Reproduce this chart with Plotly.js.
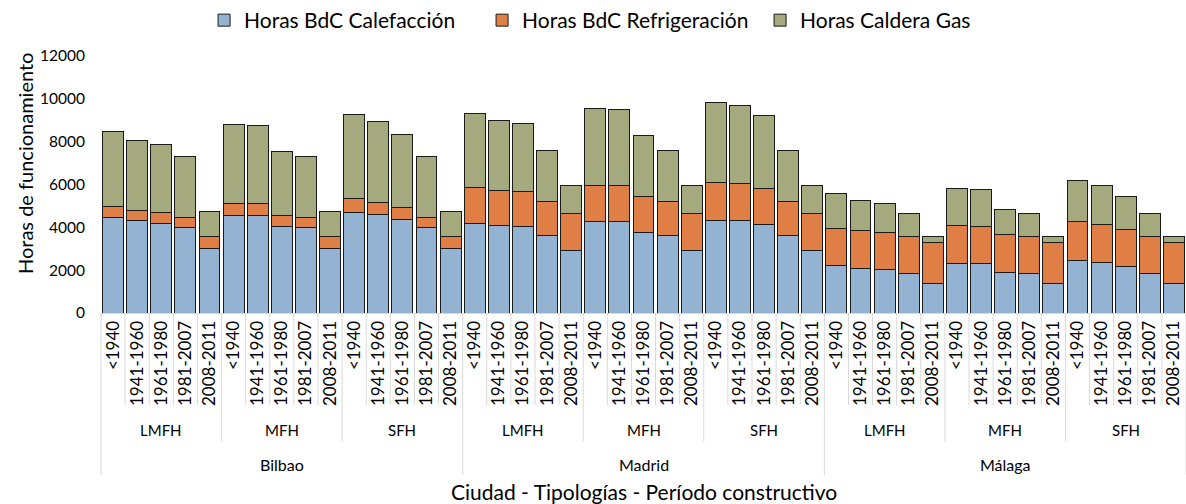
<!DOCTYPE html>
<html>
<head>
<meta charset="utf-8">
<script src="https://cdn.plot.ly/plotly-3.0.1.min.js"></script>
<style>html,body{margin:0;padding:0;background:#fff}#chart{width:1186px;height:504px}</style>
</head>
<body>
<div id="chart"></div>
<script>
var cities = ['Bilbao', 'Madrid', 'Málaga'];
var typologies = ['LMFH', 'MFH', 'SFH'];
var periods = ['<1940', '1941-1960', '1961-1980', '1981-2007', '2008-2011'];

// one row per ciudad: LMFH | MFH | SFH, 5 periodos each
var calefaccion = [
  4450, 4300, 4200, 4000, 2990,  4560, 4550, 4050, 4000, 2990,  4670, 4590, 4370, 4000, 2990,
  4190, 4090, 4020, 3600, 2930,  4280, 4280, 3750, 3600, 2930,  4340, 4310, 4140, 3600, 2930,
  2220, 2100, 2040, 1840, 1390,  2320, 2310, 1900, 1840, 1390,  2460, 2370, 2180, 1840, 1390
];
var refrigeracion = [
  510, 480, 480, 450, 575,  540, 555, 495, 450, 575,  665, 580, 545, 450, 575,
  1680, 1650, 1650, 1590, 1730,  1695, 1680, 1680, 1590, 1730,  1775, 1730, 1695, 1590, 1730,
  1745, 1730, 1725, 1725, 1880,  1745, 1740, 1775, 1725, 1880,  1805, 1760, 1725, 1725, 1880
];
var calderaGas = [
  3500, 3270, 3175, 2835, 1165,  3705, 3660, 2990, 2835, 1165,  3940, 3780, 3410, 2835, 1165,
  3455, 3255, 3175, 2380, 1290,  3595, 3565, 2865, 2380, 1290,  3735, 3660, 3375, 2380, 1290,
  1635, 1400, 1355, 1090, 325,  1730, 1710, 1165, 1090, 325,  1930, 1820, 1555, 1090, 325
];

var FONT = 'Lato, "Open Sans", sans-serif';
var n = cities.length * typologies.length * periods.length;

var xs = [], ticktext = [];
for (var i = 0; i < n; i++) {
  xs.push(i);
  ticktext.push(periods[i % periods.length]);
}

function barTrace(name, y, color) {
  return {
    type: 'bar',
    name: name,
    x: xs,
    y: y,
    marker: {color: color, line: {color: '#1a1a1a', width: 1}},
    hoverinfo: 'skip'
  };
}

var data = [
  barTrace('Horas BdC Calefacción', calefaccion, '#94b3d3'),
  barTrace('Horas BdC Refrigeración', refrigeracion, '#df7e45'),
  barTrace('Horas Caldera Gas', calderaGas, '#a4a97e')
];

// separator lines under the x axis (3 levels)
var shapes = [];
for (var k = 0; k <= n; k++) {
  var yEnd = -0.358;
  if (k % 15 === 0) yEnd = -0.63;
  else if (k % 5 === 0) yEnd = -0.5;
  shapes.push({
    type: 'line', xref: 'paper', yref: 'paper',
    x0: k / n, x1: k / n, y0: 0, y1: yEnd,
    line: {color: '#d9d9d9', width: 1}
  });
}

var annotations = [];
for (var c = 0; c < cities.length; c++) {
  for (var t = 0; t < typologies.length; t++) {
    annotations.push({
      xref: 'x', yref: 'paper', x: c * 15 + t * 5 + 2, y: -0.455,
      text: typologies[t], showarrow: false, yanchor: 'middle',
      font: {family: FONT, size: 15, color: '#000'}
    });
  }
  annotations.push({
    xref: 'x', yref: 'paper', x: c * 15 + 7, y: -0.588,
    text: cities[c], showarrow: false, yanchor: 'middle',
    font: {family: FONT, size: 16, color: '#000'}
  });
}
annotations.push({
  xref: 'paper', yref: 'paper', x: 0.5, y: -0.696,
  text: 'Ciudad - Tipologías - Período constructivo', showarrow: false,
  xanchor: 'center', yanchor: 'middle',
  font: {family: FONT, size: 21, color: '#000'}
});
annotations.push({
  xref: 'paper', yref: 'paper', x: -0.07, y: 0.58,
  text: 'Horas de funcionamiento', showarrow: false, textangle: -90,
  xanchor: 'center', yanchor: 'middle',
  font: {family: FONT, size: 20, color: '#000'}
});

var layout = {
  width: 1186,
  height: 504,
  margin: {l: 101, r: 0, t: 56, b: 191},
  barmode: 'stack',
  bargap: 0.13,
  paper_bgcolor: '#fff',
  plot_bgcolor: '#fff',
  showlegend: true,
  legend: {
    orientation: 'h', traceorder: 'normal',
    entrywidth: 233, entrywidthmode: 'pixels',
    x: 0.095, y: 1.14, xanchor: 'left', yanchor: 'middle',
    font: {family: FONT, size: 21, color: '#000'}
  },
  xaxis: {
    range: [-0.5, n - 0.5],
    tickmode: 'array',
    tickvals: xs,
    ticktext: ticktext,
    tickangle: -90,
    ticks: '',
    showgrid: false,
    zeroline: false,
    showline: true,
    linecolor: '#d9d9d9',
    tickfont: {family: FONT, size: 17, color: '#000'},
    fixedrange: true
  },
  yaxis: {
    range: [0, 12000],
    dtick: 2000,
    tickformat: 'd',
    showgrid: false,
    zeroline: false,
    showline: false,
    ticks: '',
    ticklabelstandoff: 15,
    tickfont: {family: FONT, size: 15.5, color: '#000'},
    fixedrange: true
  },
  shapes: shapes,
  annotations: annotations
};

Plotly.newPlot('chart', data, layout, {displayModeBar: false, staticPlot: true});
</script>
</body>
</html>
